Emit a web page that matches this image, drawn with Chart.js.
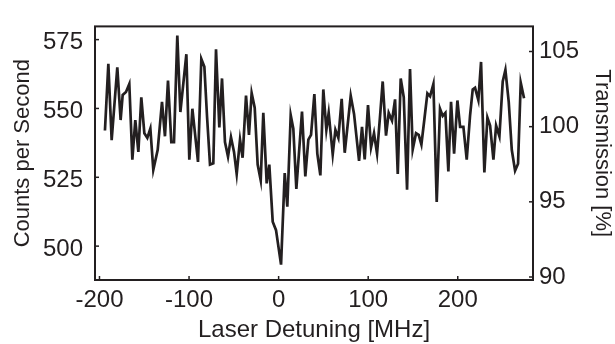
<!DOCTYPE html>
<html>
<head>
<meta charset="utf-8">
<script src="https://cdn.jsdelivr.net/npm/chart.js@4.4.1/dist/chart.umd.min.js"></script>
<style>
  html, body { margin: 0; padding: 0; background: #fff; }
</style>
</head>
<body>
<canvas id="chart" width="615" height="344"></canvas>
<script>
// detuning in MHz, counts per second
const detuning = [
  -193.9, -190.1, -186.4, -180.1, -176.4, -174.1, -170.4, -166.7, -163.3, -160.0,
  -156.6, -153.3, -149.9, -146.6, -143.2, -139.9, -135.0, -130.2, -126.9, -123.5,
  -119.8, -116.8, -113.1, -109.7, -103.0, -99.7, -96.3, -90.0, -86.3, -82.9,
  -79.9, -76.6, -72.9, -69.9, -66.2, -63.2, -59.9, -56.5, -53.2, -49.8,
  -46.8, -43.1, -40.2, -36.4, -33.1, -30.1, -26.7, -23.4, -20.0, -17.1,
  -13.3, -10.4, -6.6, -2.9, 2.7, 6.8, 9.7, 13.5, 16.4, 19.8,
  26.1, 29.8, 33.2, 36.2, 39.9, 43.2, 46.6, 49.9, 53.3, 55.9,
  60.4, 63.4, 66.7, 70.4, 73.8, 80.5, 84.2, 89.8, 93.1, 96.1,
  99.8, 103.2, 106.5, 109.9, 113.2, 116.2, 119.9, 122.9, 126.6, 130.0,
  133.0, 136.3, 139.7, 143.4, 146.7, 149.7, 153.4, 156.4, 159.4, 162.7,
  166.1, 169.1, 172.8, 176.5, 180.2, 183.2, 186.2, 189.5, 192.5, 195.9,
  199.6, 202.6, 206.3, 210.0, 213.7, 216.7, 219.3, 223.0, 226.0, 229.7,
  233.1, 236.1, 239.8, 242.8, 246.5, 250.2, 253.2, 256.9, 260.3, 264.0,
  267.3, 270.3, 274.0
];
const counts = [
  542.0, 566.2, 538.5, 564.9, 545.8, 554.9, 556.0, 558.9, 531.4, 545.8,
  534.2, 554.0, 541.0, 539.3, 542.7, 527.7, 535.0, 552.4, 539.9, 560.1,
  537.8, 537.8, 576.5, 548.7, 569.7, 531.4, 549.9, 530.6, 568.0, 565.1,
  547.0, 529.6, 530.1, 571.5, 543.1, 560.9, 537.8, 532.5, 539.6, 534.2,
  526.2, 538.7, 532.1, 554.7, 540.4, 555.6, 550.3, 529.6, 523.9, 548.4,
  522.8, 529.6, 508.9, 505.8, 493.3, 526.5, 514.3, 547.6, 542.7, 520.8,
  548.9, 525.3, 538.7, 540.4, 555.2, 533.6, 525.7, 556.9, 542.2, 548.4,
  533.3, 542.2, 539.3, 553.5, 533.9, 554.6, 548.0, 531.0, 543.3, 531.5,
  551.2, 535.9, 541.0, 533.6, 547.0, 559.8, 540.1, 548.4, 545.6, 553.3,
  526.2, 560.9, 554.1, 520.5, 564.3, 535.1, 541.0, 540.4, 536.9, 546.0,
  555.5, 554.4, 558.9, 516.0, 549.9, 547.3, 548.4, 527.1, 552.4, 533.6,
  552.9, 543.3, 543.3, 531.4, 547.3, 556.9, 557.5, 553.0, 566.9, 526.8,
  546.7, 543.8, 531.4, 543.8, 539.9, 559.8, 564.0, 552.4, 535.0, 527.4,
  529.9, 559.4, 553.7
];

const xRange = [-205, 284];
const countsRange = [487.7, 579.8];
const transRange = [89.8, 106.67];

const ink = '#231f20';
const family = '"Liberation Sans", Arial, sans-serif';
const font = { family, size: 24 };
const vfont = { family, size: 22 };

// box around the plot plus small inward tick marks
const frameTicks = {
  id: 'frameTicks',
  afterDraw(chart) {
    const { ctx, chartArea: a, scales } = chart;
    ctx.save();
    ctx.strokeStyle = ink;
    ctx.lineWidth = 2;
    ctx.strokeRect(a.left, a.top, a.right - a.left, a.bottom - a.top);
    ctx.lineWidth = 1.5;
    const seg = (x1, y1, x2, y2) => {
      ctx.beginPath(); ctx.moveTo(x1, y1); ctx.lineTo(x2, y2); ctx.stroke();
    };
    scales.x.ticks.forEach(t => {
      const p = scales.x.getPixelForValue(t.value);
      seg(p, a.bottom, p, a.bottom - 4);
    });
    scales.y.ticks.forEach(t => {
      const p = scales.y.getPixelForValue(t.value);
      seg(a.left, p, a.left + 4, p);
    });
    scales.y2.ticks.forEach(t => {
      const p = scales.y2.getPixelForValue(t.value);
      seg(a.right, p, a.right - 4, p);
    });
    ctx.restore();
  }
};

new Chart(document.getElementById('chart'), {
  type: 'line',
  data: {
    datasets: [{
      data: detuning.map((d, i) => ({ x: d, y: counts[i] })),
      borderColor: ink,
      borderWidth: 2.7,
      pointRadius: 0,
      tension: 0,
      fill: false
    }]
  },
  options: {
    responsive: false,
    animation: false,
    layout: { padding: { top: 10, left: 0, right: 0, bottom: 0 } },
    plugins: { legend: { display: false }, tooltip: { enabled: false } },
    scales: {
      x: {
        type: 'linear',
        min: xRange[0],
        max: xRange[1],
        afterFit: s => { s.height = 64; },
        grid: { display: false, drawTicks: false },
        border: { display: false },
        ticks: { stepSize: 100, includeBounds: false, color: ink, font, padding: 6 },
        title: { display: true, text: 'Laser Detuning [MHz]', color: ink, font, padding: { top: 0, bottom: -1 } }
      },
      y: {
        position: 'left',
        min: countsRange[0],
        max: countsRange[1],
        afterFit: s => { s.width = 95; },
        grid: { display: false, drawTicks: false },
        border: { display: false },
        ticks: { stepSize: 25, includeBounds: false, color: ink, font, padding: 12, labelOffset: 3 },
        title: { display: true, text: 'Counts per Second', color: ink, font: vfont, padding: { top: 10, bottom: 0 } }
      },
      y2: {
        position: 'right',
        min: transRange[0],
        max: transRange[1],
        afterFit: s => { s.width = 82; },
        grid: { display: false, drawTicks: false },
        border: { display: false },
        ticks: { stepSize: 5, includeBounds: false, color: ink, font, padding: 6 },
        title: { display: true, text: 'Transmission [%]', color: ink, font: vfont, padding: { top: 0, bottom: 0 } }
      }
    }
  },
  plugins: [frameTicks]
});
</script>
</body>
</html>
